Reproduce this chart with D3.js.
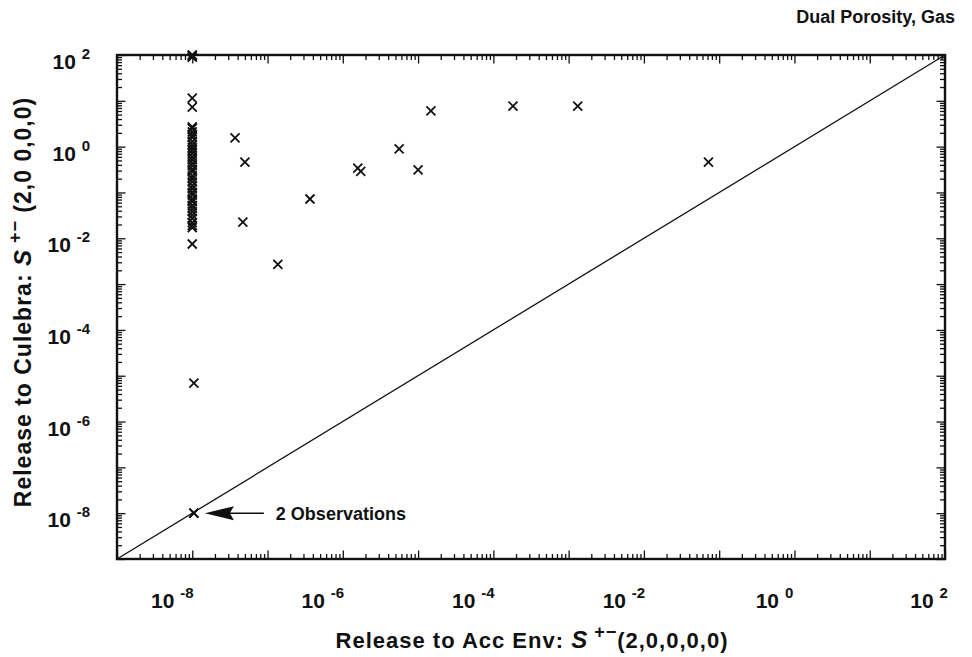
<!DOCTYPE html>
<html>
<head>
<meta charset="utf-8">
<script src="https://cdn.jsdelivr.net/npm/d3@7"></script>
<style>
  body { margin: 0; background: #fff; }
  text { font-family: "Liberation Sans", Arial, Helvetica, sans-serif; font-weight: bold; fill: #111; }
</style>
</head>
<body>
<svg id="chart" width="972" height="657"></svg>
<script>
// labelled decades on both axes
const xLabelDecades = [-8, -6, -4, -2, 0, 2];
const yLabelDecades = [-8, -6, -4, -2, 0, 2];

// vertical column of runs at x = 1e-8
const columnX = 1e-8;
const columnY = [100, 96, 90, 11.5, 7.3, 2.7, 2.5, 2.1, 1.8, 1.6, 1.3, 1.1, 0.95, 0.83, 0.71, 0.6,
  0.52, 0.44, 0.38, 0.32, 0.28, 0.23, 0.2, 0.17, 0.14, 0.12, 0.1, 0.087, 0.072, 0.063,
  0.052, 0.045, 0.038, 0.032, 0.027, 0.022, 0.019, 0.017, 0.0075];

// low runs just right of the column
const lowX = [1.05e-8, 1.05e-8, 1.05e-8];
const lowY = [6.9e-6, 1e-8, 1e-8];

// remaining scattered runs
const spreadX = [3.7e-8, 5.0e-8, 4.7e-8, 1.37e-7, 3.66e-7, 1.58e-6, 1.73e-6, 5.6e-6, 1.0e-5, 1.48e-5, 1.82e-4, 1.32e-3, 0.072];
const spreadY = [1.55, 0.46, 0.0225, 0.0027, 0.072, 0.34, 0.29, 0.89, 0.31, 6.0, 7.7, 7.7, 0.46];

const svg = d3.select("#chart");
const pLeft = 117, pRight = 945, pTop = 55, pBottom = 559;

const x = d3.scaleLog().domain([1e-9, 1e2]).range([pLeft, pRight]);
const y = d3.scaleLog().domain([1e-9, 1e2]).range([pBottom, pTop]);

// tick lists: decades and 2..9 inside each decade
const majors = d3.range(-9, 3).map(d => Math.pow(10, d));
const minors = [];
d3.range(-9, 2).forEach(d => {
  for (let k = 2; k <= 9; k++) minors.push(k * Math.pow(10, d));
});

function drawTicks(axisFn, scale, transform, size) {
  svg.append("g")
    .attr("transform", transform)
    .call(axisFn(scale).tickValues(majors).tickSize(-size * 1.7).tickFormat(""))
    .call(g => g.select(".domain").remove());
  svg.append("g")
    .attr("transform", transform)
    .call(axisFn(scale).tickValues(minors).tickSize(-size).tickFormat(""))
    .call(g => g.select(".domain").remove());
}
drawTicks(d3.axisBottom, x, `translate(0,${pBottom})`, 5);
drawTicks(d3.axisTop, x, `translate(0,${pTop})`, 5);
drawTicks(d3.axisLeft, y, `translate(${pLeft},0)`, 5);
drawTicks(d3.axisRight, y, `translate(${pRight},0)`, 5);
svg.selectAll(".tick line").attr("stroke", "#111").attr("stroke-width", 1.3);

// frame
svg.append("rect")
  .attr("x", pLeft).attr("y", pTop)
  .attr("width", pRight - pLeft).attr("height", pBottom - pTop)
  .attr("fill", "none").attr("stroke", "#111").attr("stroke-width", 2.4);

// 1:1 line
svg.append("line")
  .attr("x1", x(1e-9)).attr("y1", y(1e-9))
  .attr("x2", x(1e2)).attr("y2", y(1e2))
  .attr("stroke", "#111").attr("stroke-width", 1.3);

// tick labels 10^n
const xl = svg.append("g").selectAll("text").data(xLabelDecades).enter()
  .append("text")
  .attr("x", d => x(Math.pow(10, d)) - (d === 2 ? 16 : 20))
  .attr("y", 608)
  .attr("text-anchor", "middle")
  .style("font-size", "21px");
xl.append("tspan").text("10 ");
xl.append("tspan").attr("dy", -10).style("font-size", "15px").text(d => d < 0 ? "-" + (-d) : d);

const yl = svg.append("g").selectAll("text").data(yLabelDecades).enter()
  .append("text")
  .attr("x", 90)
  .attr("y", d => y(Math.pow(10, d)) + 14)
  .attr("text-anchor", "end")
  .style("font-size", "21px");
yl.append("tspan").text("10 ");
yl.append("tspan").attr("dy", -10).style("font-size", "15px").text(d => d < 0 ? "-" + (-d) : d);

// markers
const pts = columnY.map(v => [columnX, v])
  .concat(lowX.map((v, i) => [v, lowY[i]]))
  .concat(spreadX.map((v, i) => [v, spreadY[i]]));
const r = 4.5;
svg.append("g").selectAll("path").data(pts).enter()
  .append("path")
  .attr("transform", d => `translate(${x(d[0])},${y(d[1])})`)
  .attr("d", `M${-r},${-r}L${r},${r}M${-r},${r}L${r},${-r}`)
  .attr("stroke", "#111").attr("stroke-width", 1.8).attr("fill", "none");

// annotation
const ax = x(1.05e-8), ay = y(1e-8);
svg.append("path")
  .attr("d", `M${ax + 11},${ay} L${ax + 40},${ay - 7} L${ax + 36},${ay} L${ax + 40},${ay + 7} Z`)
  .attr("fill", "#111");
svg.append("line")
  .attr("x1", ax + 36).attr("y1", ay).attr("x2", ax + 70).attr("y2", ay)
  .attr("stroke", "#111").attr("stroke-width", 1.5);
svg.append("text")
  .attr("x", ax + 82).attr("y", ay + 7)
  .style("font-size", "18px")
  .text("2 Observations");

// title
svg.append("text")
  .attr("x", 955).attr("y", 23)
  .attr("text-anchor", "end")
  .style("font-size", "18px")
  .text("Dual Porosity, Gas");

// axis titles
const xt = svg.append("text")
  .attr("x", 532).attr("y", 648)
  .attr("text-anchor", "middle")
  .style("font-size", "22px")
  .style("letter-spacing", "1px");
xt.append("tspan").text("Release to Acc Env: ");
xt.append("tspan").style("font-style", "italic").style("font-size", "24px").text("S");
xt.append("tspan").attr("dy", -10).style("font-size", "18px").text(" +\u2212");
xt.append("tspan").attr("dy", 10).text("(2,0,0,0,0)");

const yt = svg.append("text")
  .attr("transform", "translate(31,302) rotate(-90)")
  .attr("text-anchor", "middle")
  .style("font-size", "23px")
  .style("letter-spacing", "1px");
yt.append("tspan").text("Release to Culebra: ");
yt.append("tspan").style("font-style", "italic").style("font-size", "24px").text("S");
yt.append("tspan").attr("dy", -10).style("font-size", "18px").text(" +\u2212");
yt.append("tspan").attr("dy", 10).text(" (2,0 0,0,0)");
</script>
</body>
</html>
